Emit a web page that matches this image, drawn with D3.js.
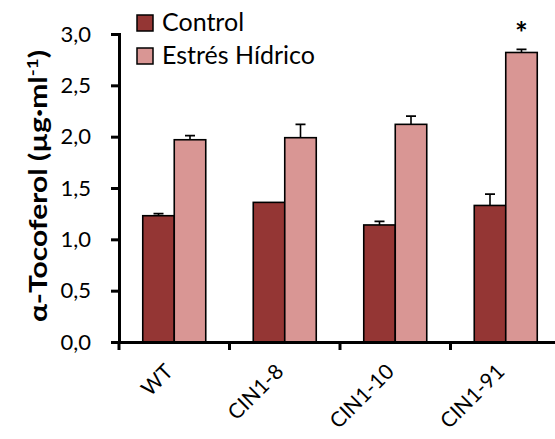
<!DOCTYPE html>
<html>
<head>
<meta charset="utf-8">
<script src="https://cdn.jsdelivr.net/npm/d3@7"></script>
<style>
  body { margin: 0; background: #fff; }
  text { font-family: Lato, "Open Sans", sans-serif; }
</style>
</head>
<body>
<div id="chart"></div>
<script>
// ==== Data ====
const categories = ["WT", "CIN1-8", "CIN1-10", "CIN1-91"];
const seriesNames = ["Control", "Estrés Hídrico"];
const controlValues = [1.23, 1.36, 1.14, 1.33];
const controlErrors = [0.02, 0, 0.035, 0.11];
const stressValues = [1.97, 1.99, 2.12, 2.82];
const stressErrors = [0.04, 0.13, 0.08, 0.03];
const yTicks = [0, 0.5, 1, 1.5, 2, 2.5, 3];
const significant = [false, false, false, true];

const colors = ["#943634", "#D99694"];

// ==== Setup ====
const width = 555, height = 439;
const margin = { top: 34, left: 119, bottom: 97 };
const plotBottom = height - margin.bottom; // y of 0

let svg = d3.select("#chart")
    .append("svg")
    .attr("width", width)
    .attr("height", height);

let xScale = d3.scaleBand()
    .domain(categories)
    .range([margin.left, margin.left + 442]);

let groupWidth = 63;
let xInner = d3.scaleBand()
    .domain(seriesNames)
    .range([0, groupWidth]);

let yScale = d3.scaleLinear()
    .domain([0, 3])
    .range([plotBottom, margin.top]);

// table built from the arrays
const rows = categories.map((c, i) => ({
    cat: c,
    vals: [
        { s: seriesNames[0], v: controlValues[i], e: controlErrors[i], k: 0 },
        { s: seriesNames[1], v: stressValues[i], e: stressErrors[i], k: 1 }
    ],
    sig: significant[i]
}));

// ==== Bars ====
let groups = svg.selectAll(".group")
    .data(rows)
    .enter()
    .append("g")
    .attr("class", "group")
    .attr("transform", d => `translate(${xScale(d.cat) + (xScale.bandwidth() - groupWidth) / 2},0)`);

// error bars (upward only)
groups.selectAll(".err")
    .data(d => d.vals.filter(v => v.e > 0))
    .enter()
    .append("path")
    .attr("class", "err")
    .attr("fill", "none")
    .attr("stroke", "#000")
    .attr("stroke-width", 1.6)
    .attr("d", d => {
        let cx = xInner(d.s) + xInner.bandwidth() / 2;
        let y0 = yScale(d.v), y1 = yScale(d.v + d.e);
        return `M${cx},${y0}V${y1}M${cx - 5},${y1}H${cx + 5}`;
    });

groups.selectAll(".bar")
    .data(d => d.vals)
    .enter()
    .append("rect")
    .attr("class", "bar")
    .attr("x", d => xInner(d.s))
    .attr("width", xInner.bandwidth())
    .attr("y", d => yScale(d.v))
    .attr("height", d => yScale(0) - yScale(d.v))
    .attr("fill", d => colors[d.k])
    .attr("stroke", "#000")
    .attr("stroke-width", 1.6);

// significance star
groups.filter(d => d.sig)
    .append("text")
    .attr("x", xInner(seriesNames[1]) + xInner.bandwidth() / 2)
    .attr("y", d => yScale(d.vals[1].v + d.vals[1].e) - 5)
    .attr("text-anchor", "middle")
    .attr("font-size", 30)
    .attr("font-weight", "bold")
    .text("*");

// ==== Axes ====
let yAxis = d3.axisLeft(yScale)
    .tickValues(yTicks)
    .tickSize(8)
    .tickPadding(20)
    .tickFormat(d => d3.format(".1f")(d).replace(".", ","));

svg.append("g")
    .attr("class", "axis y-axis")
    .attr("transform", `translate(${margin.left},0)`)
    .call(yAxis);

let xAxis = d3.axisBottom(xScale)
    .tickValues([])
    .tickSizeOuter(0);

let gx = svg.append("g")
    .attr("class", "axis x-axis")
    .attr("transform", `translate(0,${plotBottom})`)
    .call(xAxis);

// boundary ticks between categories
gx.selectAll(".bound")
    .data(categories.concat(["end"]))
    .enter()
    .append("line")
    .attr("class", "bound")
    .attr("x1", (d, i) => xScale.range()[0] + i * xScale.step())
    .attr("x2", (d, i) => xScale.range()[0] + i * xScale.step())
    .attr("y1", 0)
    .attr("y2", 8)
    .attr("stroke", "#000")
    .attr("stroke-width", 3);

gx.selectAll(".cat-label")
    .data(categories)
    .enter()
    .append("text")
    .attr("class", "cat-label")
    .attr("transform", d => `translate(${xScale(d) + xScale.bandwidth() / 2},${31}) rotate(-45)`)
    .attr("text-anchor", "end")
    .attr("font-size", 21)
    .attr("fill", "#000")
    .text(d => d);

svg.selectAll(".axis path.domain")
    .attr("stroke", "#000")
    .attr("stroke-width", 3);
svg.selectAll(".y-axis .tick line")
    .attr("stroke", "#000")
    .attr("stroke-width", 3);
svg.selectAll(".y-axis .tick text")
    .attr("font-size", 22)
    .attr("fill", "#000")
    .attr("font-family", "Lato, sans-serif");

// y-axis title
let title = svg.append("text")
    .attr("transform", `translate(47,186) rotate(-90)`)
    .attr("text-anchor", "middle")
    .attr("font-size", 24)
    .attr("font-weight", "bold")
    .attr("textLength", 272)
    .attr("lengthAdjust", "spacingAndGlyphs");
title.append("tspan").text("α-Tocoferol (µg·ml");
title.append("tspan").attr("font-size", 15).attr("dy", -9).text("-1");
title.append("tspan").attr("dy", 9).text(")");

// ==== Legend ====
let legend = svg.selectAll(".legend")
    .data(seriesNames)
    .enter()
    .append("g")
    .attr("class", "legend")
    .attr("transform", (d, i) => `translate(137,${15 + i * 33})`);

legend.append("rect")
    .attr("width", 16)
    .attr("height", 16)
    .attr("fill", (d, i) => colors[i])
    .attr("stroke", "#000")
    .attr("stroke-width", 1.5);

legend.append("text")
    .attr("x", 25)
    .attr("y", 16)
    .attr("font-size", 25)
    .text(d => d);
</script>
</body>
</html>
